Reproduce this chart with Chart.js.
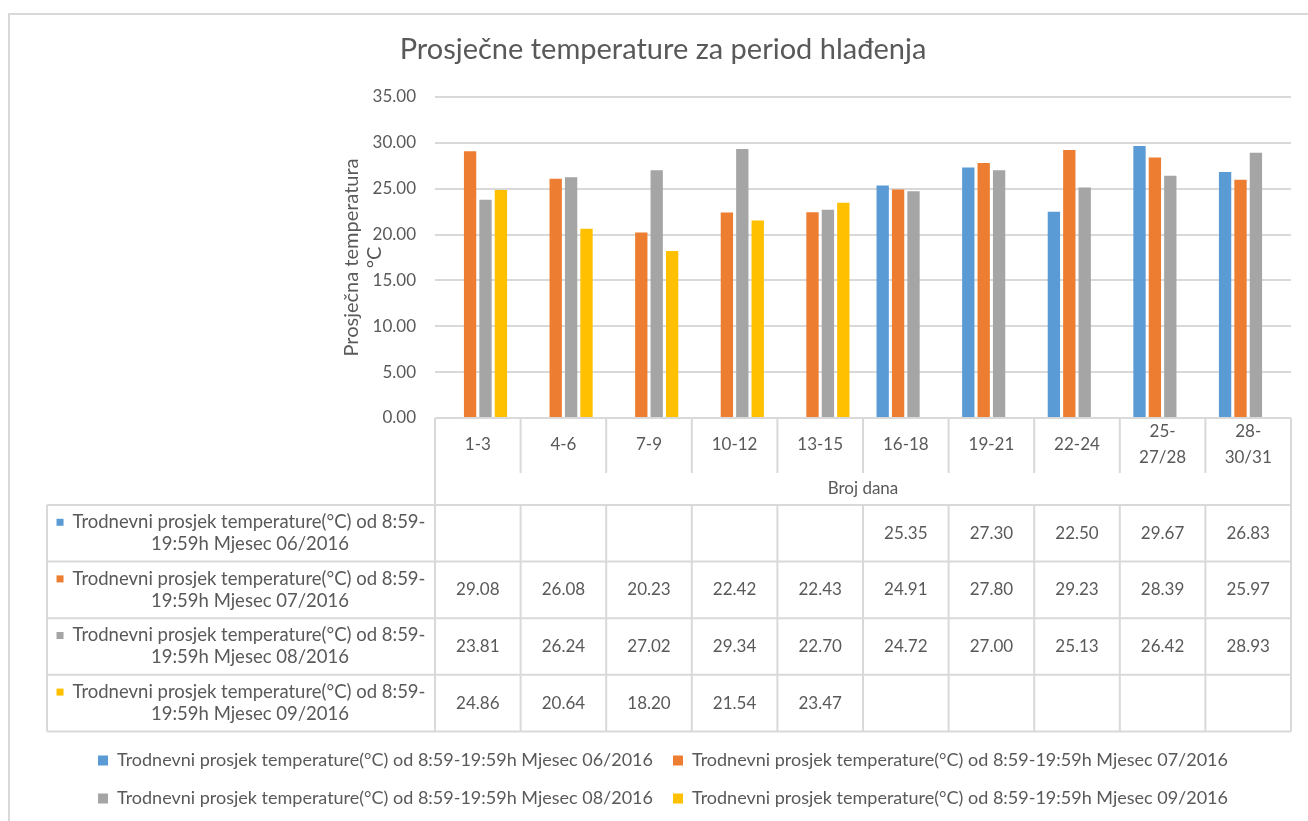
<!DOCTYPE html>
<html>
<head>
<meta charset="utf-8">
<script src="https://cdn.jsdelivr.net/npm/chart.js@4"></script>
<style>
  html, body { margin: 0; padding: 0; background: #fff; }
  #wrap { width: 1308px; height: 821px; }
</style>
</head>
<body>
<div id="wrap"><canvas id="tempChart"></canvas></div>
<script>
// podaci sa grafa
const categories = ['1-3', '4-6', '7-9', '10-12', '13-15', '16-18', '19-21', '22-24', ['25-', '27/28'], ['28-', '30/31']];
const seriesNames = [
  'Trodnevni prosjek temperature(°C) od 8:59-19:59h Mjesec 06/2016',
  'Trodnevni prosjek temperature(°C) od 8:59-19:59h Mjesec 07/2016',
  'Trodnevni prosjek temperature(°C) od 8:59-19:59h Mjesec 08/2016',
  'Trodnevni prosjek temperature(°C) od 8:59-19:59h Mjesec 09/2016'
];
const temp06 = [null, null, null, null, null, 25.35, 27.30, 22.50, 29.67, 26.83];
const temp07 = [29.08, 26.08, 20.23, 22.42, 22.43, 24.91, 27.80, 29.23, 28.39, 25.97];
const temp08 = [23.81, 26.24, 27.02, 29.34, 22.70, 24.72, 27.00, 25.13, 26.42, 28.93];
const temp09 = [24.86, 20.64, 18.20, 21.54, 23.47, null, null, null, null, null];
const yMin = 0;
const yMax = 35;
const yStep = 5;

const FONT = 'Lato, "Open Sans", sans-serif';
const TEXT = '#595959';
const LINE = '#d9d9d9';

Chart.defaults.font.family = FONT;
Chart.defaults.color = TEXT;

// okvir oko cijelog grafa
const frame = {
  id: 'frame',
  beforeDraw(chart) {
    const ctx = chart.ctx;
    ctx.save();
    ctx.fillStyle = '#fff';
    ctx.fillRect(0, 0, chart.width, chart.height);
    ctx.strokeStyle = LINE;
    ctx.lineWidth = 2;
    ctx.beginPath();
    ctx.moveTo(9, chart.height);
    ctx.lineTo(9, 14);
    ctx.lineTo(chart.width, 14);
    ctx.stroke();
    ctx.restore();
  }
};

// tablica s podacima ispod osi x
const dataTable = {
  id: 'dataTable',
  afterDraw(chart) {
    const ctx = chart.ctx;
    const x = chart.scales.x;
    const n = categories.length;
    const half = (x.getPixelForValue(1) - x.getPixelForValue(0)) / 2;
    const edges = [];
    for (let i = 0; i < n; i++) edges.push(x.getPixelForValue(i) - half);
    edges.push(x.getPixelForValue(n - 1) + half);

    const sets = chart.data.datasets;
    const top = chart.chartArea.bottom;
    const headBottom = top + 55;
    const titleBottom = top + 87;
    const rowH = 56.6;
    const left = 47;
    const bottom = titleBottom + rowH * sets.length;

    ctx.save();
    ctx.strokeStyle = LINE;
    ctx.lineWidth = 2;
    ctx.beginPath();
    ctx.moveTo(edges[0], top);
    ctx.lineTo(edges[n], top);
    edges.forEach((e, i) => {
      const outer = i === 0 || i === n;
      ctx.moveTo(e, top);
      ctx.lineTo(e, outer ? bottom : headBottom);
      if (!outer) {
        ctx.moveTo(e, titleBottom);
        ctx.lineTo(e, bottom);
      }
    });
    for (let r = 0; r <= sets.length; r++) {
      const y = titleBottom + r * rowH;
      ctx.moveTo(left, y);
      ctx.lineTo(edges[n], y);
    }
    ctx.moveTo(left, titleBottom);
    ctx.lineTo(left, bottom);
    ctx.stroke();

    ctx.fillStyle = TEXT;
    ctx.textAlign = 'center';
    ctx.textBaseline = 'middle';
    ctx.font = '17px ' + FONT;
    ctx.fillText('Broj dana', (x.left + x.right) / 2, (headBottom + titleBottom) / 2);

    const cx = (left + edges[0]) / 2;
    sets.forEach((ds, r) => {
      const cy = titleBottom + r * rowH + rowH / 2;
      const lines = ds.label.replace('8:59-', '8:59-\n').split('\n');
      const sw = 7, gap = 9;
      ctx.font = '18.5px ' + FONT;
      const w1 = ctx.measureText(lines[0]).width;
      const sx = cx - (sw + gap + w1) / 2;
      ctx.fillStyle = ds.backgroundColor;
      ctx.fillRect(sx, cy - 11 - sw / 2, sw, sw);
      ctx.fillStyle = TEXT;
      ctx.textAlign = 'left';
      ctx.fillText(lines[0], sx + sw + gap, cy - 11);
      ctx.textAlign = 'center';
      ctx.fillText(lines[1], cx + 9, cy + 11);
      ctx.font = '17px ' + FONT;
      ds.data.forEach((v, i) => {
        if (v === null) return;
        ctx.fillText(v.toFixed(2), x.getPixelForValue(i), cy);
      });
    });
    ctx.restore();
  }
};

const ctx = document.getElementById('tempChart').getContext('2d');
const tempChart = new Chart(ctx, {
  type: 'bar',
  data: {
    labels: categories,
    datasets: [
      { label: seriesNames[0], data: temp06, backgroundColor: '#5b9bd5' },
      { label: seriesNames[1], data: temp07, backgroundColor: '#ed7d31' },
      { label: seriesNames[2], data: temp08, backgroundColor: '#a5a5a5' },
      { label: seriesNames[3], data: temp09, backgroundColor: '#ffc000' }
    ]
  },
  options: {
    responsive: true,
    maintainAspectRatio: false,
    animation: false,
    categoryPercentage: 0.72,
    barPercentage: 0.8,
    layout: { padding: { left: 35, right: 17, top: 0, bottom: 3.5 } },
    plugins: {
      title: {
        display: true,
        text: 'Prosječne temperature za period hlađenja',
        color: TEXT,
        font: { size: 29, weight: 'normal', lineHeight: 1.2 },
        padding: { top: 32.6, bottom: 29.6 }
      },
      legend: {
        position: 'bottom',
        labels: {
          boxWidth: 10,
          boxHeight: 10,
          padding: 20,
          color: TEXT,
          font: { size: 18 }
        }
      },
      tooltip: { enabled: false }
    },
    scales: {
      x: {
        grid: { display: false, drawTicks: false },
        border: { display: false },
        ticks: {
          color: TEXT,
          font: { size: 17, lineHeight: 1.53 },
          padding: 14,
          crossAlign: 'center',
          maxRotation: 0,
          autoSkip: false
        },
        afterFit(scale) { scale.height = 313.5; }
      },
      y: {
        min: yMin,
        max: yMax,
        ticks: {
          stepSize: yStep,
          color: TEXT,
          padding: 19,
          font: { size: 17 },
          callback: v => v.toFixed(2)
        },
        grid: { color: LINE, lineWidth: 2, drawTicks: false },
        border: { display: false },
        title: {
          display: true,
          text: ['Prosječna temperatura', '°C'],
          color: TEXT,
          font: { size: 20, lineHeight: 1.15 },
          padding: { top: 305.5, bottom: 0 }
        },
        afterFit(scale) { scale.width = 400; }
      }
    }
  },
  plugins: [frame, dataTable]
});
</script>
</body>
</html>
